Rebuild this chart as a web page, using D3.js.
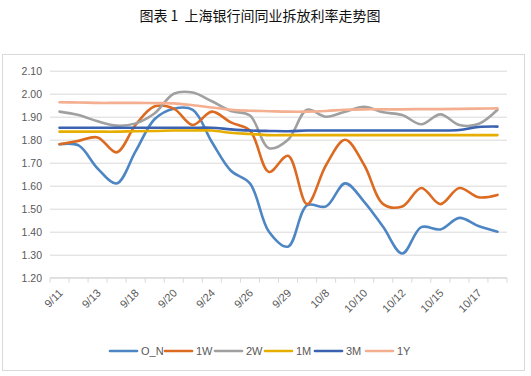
<!DOCTYPE html>
<html>
<head>
    <meta charset="utf-8">
    <script src="https://cdn.jsdelivr.net/npm/d3@7"></script>
    <style>
        body { margin: 0; background: #fff; }
    </style>
</head>

<body>

<div id="graph"></div>

<script>

// trading days on the x axis
const dates = ["9/11", "9/12", "9/13", "9/14", "9/18", "9/19", "9/20", "9/23", "9/24", "9/25", "9/26", "9/27",
               "9/29", "9/30", "10/8", "10/9", "10/10", "10/11", "10/12", "10/14", "10/15", "10/16", "10/17", "10/18"];

// only every other date gets a label
const xLabels = ["9/11", "9/13", "9/18", "9/20", "9/24", "9/26", "9/29", "10/8", "10/10", "10/12", "10/15", "10/17"];

const yTicks = [1.2, 1.3, 1.4, 1.5, 1.6, 1.7, 1.8, 1.9, 2.0, 2.1];

const seriesNames = ["O_N", "1W", "2W", "1M", "3M", "1Y"];

const rateON = [1.78, 1.775, 1.675, 1.61, 1.75, 1.89, 1.935, 1.93, 1.79, 1.665, 1.61, 1.40,
                1.335, 1.515, 1.51, 1.61, 1.53, 1.42, 1.305, 1.42, 1.41, 1.46, 1.425, 1.40];
const rate1W = [1.78, 1.795, 1.81, 1.745, 1.865, 1.945, 1.935, 1.864, 1.922, 1.875, 1.84, 1.66,
                1.73, 1.52, 1.69, 1.80, 1.69, 1.52, 1.51, 1.59, 1.52, 1.59, 1.55, 1.56];
const rate2W = [1.922, 1.907, 1.88, 1.861, 1.871, 1.915, 2.00, 2.005, 1.967, 1.925, 1.905, 1.763,
                1.80, 1.93, 1.90, 1.922, 1.943, 1.919, 1.907, 1.867, 1.91, 1.864, 1.868, 1.93];
const rate1M = [1.835, 1.835, 1.835, 1.835, 1.837, 1.838, 1.84, 1.84, 1.84, 1.83, 1.825, 1.82,
                1.82, 1.82, 1.82, 1.82, 1.82, 1.82, 1.82, 1.82, 1.82, 1.82, 1.82, 1.82];
const rate3M = [1.852, 1.852, 1.852, 1.852, 1.852, 1.852, 1.852, 1.852, 1.852, 1.845, 1.84, 1.838,
                1.837, 1.84, 1.84, 1.84, 1.84, 1.84, 1.84, 1.84, 1.84, 1.842, 1.855, 1.857];
const rate1Y = [1.963, 1.962, 1.96, 1.96, 1.96, 1.959, 1.958, 1.95, 1.94, 1.93, 1.926, 1.924,
                1.922, 1.922, 1.925, 1.93, 1.932, 1.932, 1.932, 1.933, 1.933, 1.934, 1.935, 1.936];

const seriesValues = [rateON, rate1W, rate2W, rate1M, rate3M, rate1Y];
const colors = ["#4E86C4", "#DC6B21", "#A0A0A0", "#E6AE00", "#3A62B0", "#F4AE90"];

const W = 531, H = 376;
const plot = {left: 50, right: 507, top: 70.7, bottom: 277.7};

const svg = d3.select("#graph")
  .append("svg")
    .attr("width", W)
    .attr("height", H)
    .style("font-family", "'Liberation Sans', Arial, sans-serif");

// title (keep the double space after the number)
svg.append("text")
    .attr("x", 260)
    .attr("y", 21)
    .attr("text-anchor", "middle")
    .style("font-family", "'Noto Sans CJK SC', sans-serif")
    .style("font-size", "14px")
    .style("white-space", "pre")
    .attr("fill", "#111")
    .text("图表 1  上海银行间同业拆放利率走势图");

// chart frame
svg.append("rect")
    .attr("x", 2.5)
    .attr("y", 54.5)
    .attr("width", 522)
    .attr("height", 316)
    .attr("fill", "none")
    .attr("stroke", "#D9D9D9");

const x = d3.scaleBand()
    .domain(dates)
    .range([plot.left, plot.right])
    .padding(0);

const y = d3.scaleLinear()
    .domain([1.2, 2.1])
    .range([plot.bottom, plot.top]);

// y axis with grid lines
const yAxis = svg.append("g")
    .attr("transform", `translate(${plot.left},0)`)
    .call(d3.axisLeft(y)
        .tickValues(yTicks)
        .tickFormat(d3.format(".2f"))
        .tickSize(-(plot.right - plot.left))
        .tickPadding(8));
yAxis.select(".domain").remove();
yAxis.selectAll("line").attr("stroke", "#D9D9D9");
yAxis.selectAll("text")
    .attr("fill", "#595959")
    .style("font-size", "10.5px");

// x axis line and tick marks between categories
const xAxis = svg.append("g");
xAxis.append("line")
    .attr("x1", plot.left)
    .attr("x2", plot.right)
    .attr("y1", y(1.2))
    .attr("y2", y(1.2))
    .attr("stroke", "#D9D9D9");
const tickPos = dates.map(d => x(d)).concat([plot.right]);
xAxis.selectAll(".tk")
    .data(tickPos)
    .join("line")
      .attr("class", "tk")
      .attr("x1", d => d)
      .attr("x2", d => d)
      .attr("y1", y(1.2))
      .attr("y2", y(1.2) + 5)
      .attr("stroke", "#D9D9D9");

xAxis.selectAll(".lbl")
    .data(xLabels)
    .join("text")
      .attr("class", "lbl")
      .attr("text-anchor", "end")
      .attr("fill", "#595959")
      .style("font-size", "11px")
      .attr("transform", d => `translate(${x(d) + x.bandwidth() / 2 + 4},${y(1.2) + 16}) rotate(-45)`)
      .text(d => d);

// lines, smoothed like the office chart
const line = d3.line()
    .x((d, i) => x(dates[i]) + x.bandwidth() / 2)
    .y(d => y(d))
    .curve(d3.curveCatmullRom.alpha(0.5));

seriesValues.forEach((vals, k) => {
    svg.append("path")
      .datum(vals)
      .attr("fill", "none")
      .attr("stroke", colors[k])
      .attr("stroke-width", 2.6)
      .attr("stroke-linejoin", "round")
      .attr("stroke-linecap", "round")
      .attr("d", line);
});

// legend
const legendX = [110, 165, 215, 265, 315, 366];
const legendY = 351;
const legend = svg.append("g");
seriesNames.forEach((name, k) => {
    legend.append("line")
      .attr("x1", legendX[k])
      .attr("x2", legendX[k] + 27)
      .attr("y1", legendY)
      .attr("y2", legendY)
      .attr("stroke", colors[k])
      .attr("stroke-width", 2.6)
      .attr("stroke-linecap", "round");
    legend.append("text")
      .attr("x", legendX[k] + 31)
      .attr("y", legendY + 4)
      .attr("fill", "#595959")
      .style("font-size", "11px")
      .text(name);
});

</script>

</body>
</html>
